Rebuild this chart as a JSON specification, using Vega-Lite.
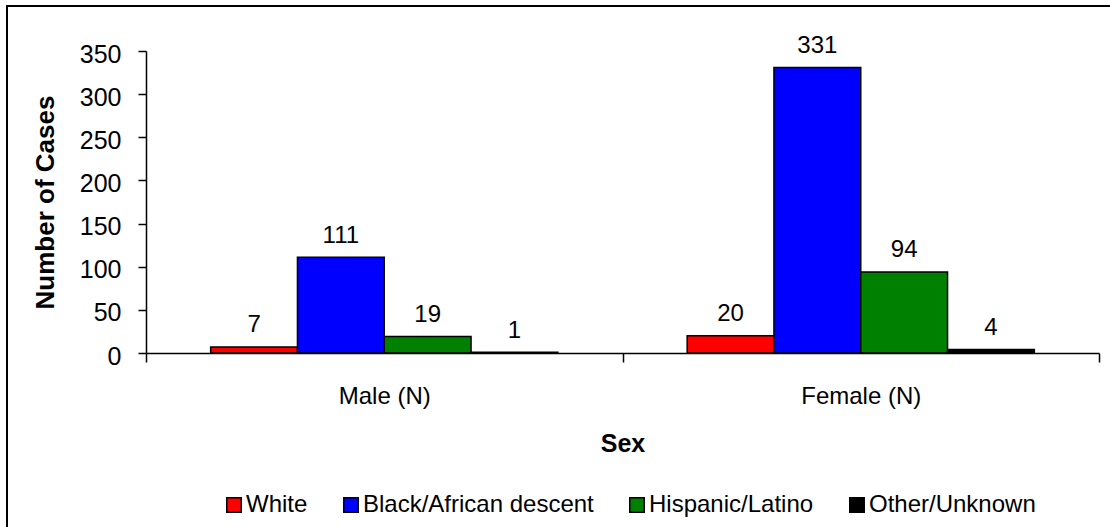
{
  "$schema": "https://vega.github.io/schema/vega-lite/v6.json",
  "width": 1108,
  "height": 525,
  "autosize": {"type": "none"},
  "padding": {"left": 7, "top": 6, "right": -5, "bottom": -4},
  "background": "white",
  "config": {
    "font": "Liberation Sans",
    "view": {"stroke": "black", "strokeWidth": 2},
    "axis": {
      "domainColor": "black",
      "domainWidth": 1.5,
      "tickColor": "black",
      "tickWidth": 1.5,
      "labelColor": "black",
      "titleColor": "black",
      "labelFont": "Liberation Sans",
      "titleFont": "Liberation Sans",
      "grid": false
    }
  },
  "data": {
    "values": [
      {"sex": "Male (N)", "group": "White", "cases": 7},
      {"sex": "Male (N)", "group": "Black/African descent", "cases": 111},
      {"sex": "Male (N)", "group": "Hispanic/Latino", "cases": 19},
      {"sex": "Male (N)", "group": "Other/Unknown", "cases": 1},
      {"sex": "Female (N)", "group": "White", "cases": 20},
      {"sex": "Female (N)", "group": "Black/African descent", "cases": 331},
      {"sex": "Female (N)", "group": "Hispanic/Latino", "cases": 94},
      {"sex": "Female (N)", "group": "Other/Unknown", "cases": 4}
    ]
  },
  "encoding": {
    "x": {
      "field": "sex",
      "type": "nominal",
      "sort": ["Male (N)", "Female (N)"],
      "scale": {"range": [139, 1092], "paddingInner": 0, "paddingOuter": 0},
      "axis": {
        "title": "Sex",
        "offset": -178,
        "labelAngle": 0,
        "tickBand": "extent",
        "tickSize": 9,
        "labelFontSize": 24,
        "labelPadding": 22,
        "titleFontSize": 25,
        "titleFontWeight": "bold",
        "titlePadding": 23
      }
    },
    "xOffset": {
      "field": "group",
      "type": "nominal",
      "sort": ["White", "Black/African descent", "Hispanic/Latino", "Other/Unknown"],
      "scale": {"paddingInner": 0, "paddingOuter": 0.745}
    },
    "y": {
      "field": "cases",
      "type": "quantitative",
      "scale": {"domain": [0, 350], "range": [347, 45], "nice": false, "zero": true},
      "axis": {
        "title": "Number of Cases",
        "offset": -139,
        "values": [0, 50, 100, 150, 200, 250, 300, 350],
        "tickSize": 8,
        "labelFontSize": 25,
        "labelPadding": 17,
        "labelOffset": 3,
        "titleFontSize": 26,
        "titleFontWeight": "bold",
        "titlePadding": 21
      }
    }
  },
  "layer": [
    {
      "mark": {"type": "bar", "stroke": "black", "strokeWidth": 1.5},
      "encoding": {
        "color": {
          "field": "group",
          "type": "nominal",
          "sort": ["White", "Black/African descent", "Hispanic/Latino", "Other/Unknown"],
          "scale": {
            "domain": ["White", "Black/African descent", "Hispanic/Latino", "Other/Unknown"],
            "range": ["#ff0000", "#0000ff", "#008000", "#000000"]
          },
          "legend": {
            "title": null,
            "orient": "none",
            "legendX": 215,
            "legendY": 487,
            "direction": "horizontal",
            "columns": 4,
            "columnPadding": 31,
            "symbolType": "square",
            "symbolSize": 210,
            "symbolStrokeColor": "black",
            "symbolStrokeWidth": 1.5,
            "symbolOpacity": 1,
            "labelFontSize": 24,
            "labelColor": "black",
            "labelFont": "Liberation Sans",
            "labelOffset": 0,
            "labelLimit": 400
          }
        }
      }
    },
    {
      "mark": {"type": "text", "fontSize": 24, "color": "black", "baseline": "alphabetic", "dy": -14.5},
      "encoding": {
        "text": {"field": "cases", "type": "quantitative"}
      }
    }
  ]
}
